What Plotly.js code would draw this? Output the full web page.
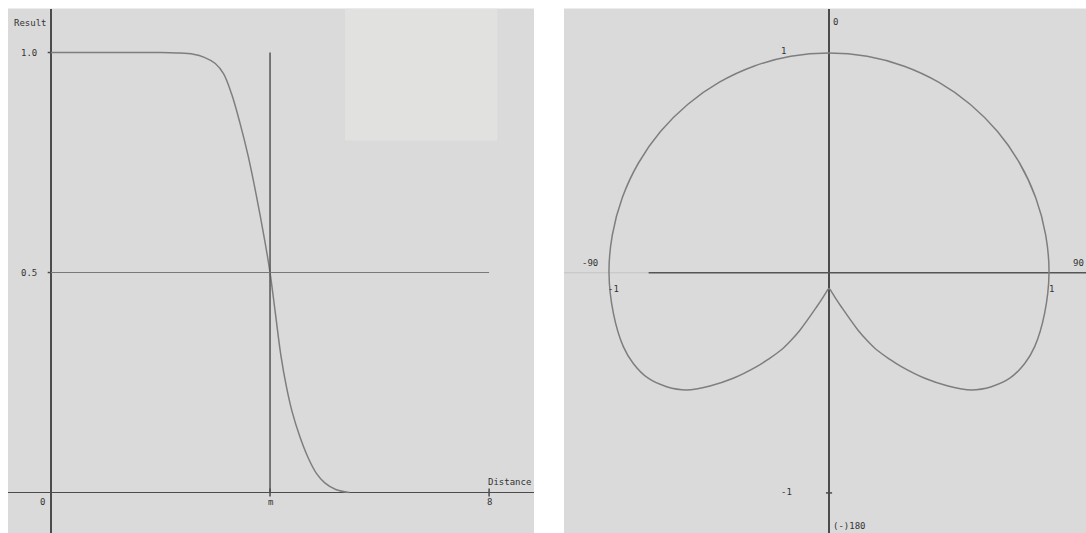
<!DOCTYPE html>
<html>
<head>
<meta charset="utf-8">
<script src="https://cdn.plot.ly/plotly-3.0.1.min.js"></script>
<style>
  html, body { margin: 0; padding: 0; background: #fff; }
  #plot { width: 1086px; height: 533px; }
</style>
</head>
<body>
<div id="plot"></div>
<script>
// left panel: result against distance
var distance = [0, 0.5, 1, 1.5, 2, 2.3, 2.6, 2.8, 3.0, 3.15, 3.3, 3.45, 3.6, 3.75, 3.9, 4.0, 4.1, 4.2, 4.3, 4.4, 4.55, 4.7, 4.85, 5.0, 5.2, 5.45];
var result = [1, 1, 1, 1, 1, 0.999, 0.996, 0.989, 0.975, 0.952, 0.905, 0.84, 0.765, 0.675, 0.575, 0.5, 0.405, 0.31, 0.24, 0.185, 0.125, 0.078, 0.043, 0.022, 0.007, 0];
var meanDistance = 4;      // the "m" mark
var halfLevel = 0.5;
var maxDistance = 8;
var xTickVals = [0, 4, 8];
var xTickText = ['0', 'm', '8'];
var yTickVals = [1.0, 0.5];
var yTickText = ['1.0', '0.5'];

// right panel: polar pattern, angle in degrees (0 = up, clockwise)
var angleDeg = [-180, -173.7, -166.8, -160, -153, -150.4, -148.1, -144.9, -142.3, -137.7, -133.5, -129.4, -125, -120.2, -114.8, -109.7, -100.6,
  -90, -80, -70, -60, -50, -40, -30, -20, -10, 0, 10, 20, 30, 40, 50, 60, 70, 80, 90,
  100.6, 109.7, 114.8, 120.2, 125, 129.4, 133.5, 137.7, 142.3, 144.9, 148.1, 150.4, 153, 160, 166.8, 173.7, 180];
var radius = [0.07, 0.082, 0.11, 0.163, 0.293, 0.355, 0.412, 0.478, 0.538, 0.647, 0.746, 0.837, 0.901, 0.951, 0.98, 0.993, 0.997,
  1, 1, 1, 1, 1, 1, 1, 1, 1, 1, 1, 1, 1, 1, 1, 1, 1, 1, 1,
  0.997, 0.993, 0.98, 0.951, 0.901, 0.837, 0.746, 0.647, 0.538, 0.478, 0.412, 0.355, 0.293, 0.163, 0.11, 0.082, 0.07];

var axisColor = '#4b4b4b';
var curveColor = '#7e7e7e';
var textFont = {family: 'DejaVu Sans Mono', size: 9, color: '#333333'};

var curve = {
  x: distance, y: result, xaxis: 'x', yaxis: 'y',
  mode: 'lines', line: {color: curveColor, width: 1.5, shape: 'spline', smoothing: 1}
};
var meanLine = {
  x: [meanDistance, meanDistance], y: [0, 1], xaxis: 'x', yaxis: 'y',
  mode: 'lines', line: {color: '#555', width: 1.5}
};
var halfLine = {
  x: [0, maxDistance], y: [halfLevel, halfLevel], xaxis: 'x', yaxis: 'y',
  mode: 'lines', line: {color: '#777', width: 1}
};
var horizLight = {
  x: [-1.21, -0.82], y: [0, 0], xaxis: 'x2', yaxis: 'y2',
  mode: 'lines', line: {color: '#c4c4c4', width: 1}
};
var horizDark = {
  x: [-0.82, 1.17], y: [0, 0], xaxis: 'x2', yaxis: 'y2',
  mode: 'lines', line: {color: '#555', width: 1.5}
};
var pattern = {
  type: 'scatterpolar', subplot: 'polar',
  r: radius, theta: angleDeg, mode: 'lines',
  line: {color: curveColor, width: 1.5, shape: 'spline', smoothing: 1}
};

var data = [curve, meanLine, halfLine, horizLight, horizDark, pattern];

var annotations = [];
function label(text, x, y, xref, yref, xanchor) {
  annotations.push({text: text, x: x, y: y, xref: xref, yref: yref,
    xanchor: xanchor || 'center', yanchor: 'middle', showarrow: false, font: textFont});
}
// left labels
label('Result', -0.37, 1.067, 'x', 'y');
for (var i = 0; i < yTickVals.length; i++) label(yTickText[i], -0.41, yTickVals[i], 'x', 'y');
label(xTickText[0], -0.16, -0.022, 'x', 'y');
for (var j = 1; j < xTickVals.length; j++) label(xTickText[j], xTickVals[j], -0.022, 'x', 'y');
label('Distance', 8.38, 0.024, 'x', 'y');
// right labels
label('0', 0.01, 1.141, 'x2', 'y2', 'left');
label('1', -0.205, 1.005, 'x2', 'y2');
label('-90', -1.086, 0.045, 'x2', 'y2');
label('90', 1.166, 0.045, 'x2', 'y2', 'right');
label('-1', -0.98, -0.073, 'x2', 'y2');
label('1', 1.009, -0.073, 'x2', 'y2');
label('-1', -0.192, -0.995, 'x2', 'y2');
label('(-)180', 0.01, -1.15, 'x2', 'y2', 'left');

var tickStyle = {color: axisColor, width: 1.5};
var shapes = [
  // pale box in the corner of the left panel
  {type: 'rect', xref: 'x', yref: 'y', x0: 5.37, x1: 8.15, y0: 0.80, y1: 1.1,
   fillcolor: '#e1e1df', line: {width: 0}, layer: 'below'},
  {type: 'line', xref: 'x', yref: 'y', x0: -0.06, x1: 0, y0: 1, y1: 1, line: tickStyle},
  {type: 'line', xref: 'x', yref: 'y', x0: -0.06, x1: 0, y0: 0.5, y1: 0.5, line: tickStyle},
  {type: 'line', xref: 'x', yref: 'y', x0: meanDistance, x1: meanDistance, y0: -0.009, y1: 0.009, line: tickStyle},
  {type: 'line', xref: 'x', yref: 'y', x0: maxDistance, x1: maxDistance, y0: -0.009, y1: 0.009, line: tickStyle},
  {type: 'line', xref: 'x2', yref: 'y2', x0: -0.014, x1: 0.014, y0: -1, y1: -1, line: tickStyle}
];

var plainAxis = {showgrid: false, showticklabels: false, ticks: '', showline: false,
  zerolinecolor: axisColor, zerolinewidth: 1.5, fixedrange: true};

var layout = {
  width: 1086, height: 533,
  margin: {l: 0, r: 0, t: 0, b: 0},
  paper_bgcolor: '#ffffff',
  plot_bgcolor: '#dadada',
  showlegend: false,
  hovermode: false,
  xaxis: Object.assign({}, plainAxis, {domain: [8 / 1086, 534 / 1086], range: [-0.785, 8.82], zeroline: true, anchor: 'y'}),
  yaxis: Object.assign({}, plainAxis, {domain: [0, 0.984], range: [-0.092, 1.1], zeroline: true, anchor: 'x'}),
  xaxis2: Object.assign({}, plainAxis, {domain: [564 / 1086, 1], range: [-1.2045, 1.168], zeroline: true, anchor: 'y2'}),
  yaxis2: Object.assign({}, plainAxis, {domain: [0, 0.984], range: [-1.182, 1.2], zeroline: false, anchor: 'x2'}),
  polar: {
    domain: {x: [587 / 1086, 1071 / 1086], y: [18 / 533, 502 / 533]},
    bgcolor: 'rgba(0,0,0,0)',
    radialaxis: {visible: false, range: [0, 1.1]},
    angularaxis: {visible: false, rotation: 90, direction: 'clockwise'}
  },
  annotations: annotations,
  shapes: shapes
};

Plotly.newPlot('plot', data, layout, {displayModeBar: false, staticPlot: true});
</script>
</body>
</html>
